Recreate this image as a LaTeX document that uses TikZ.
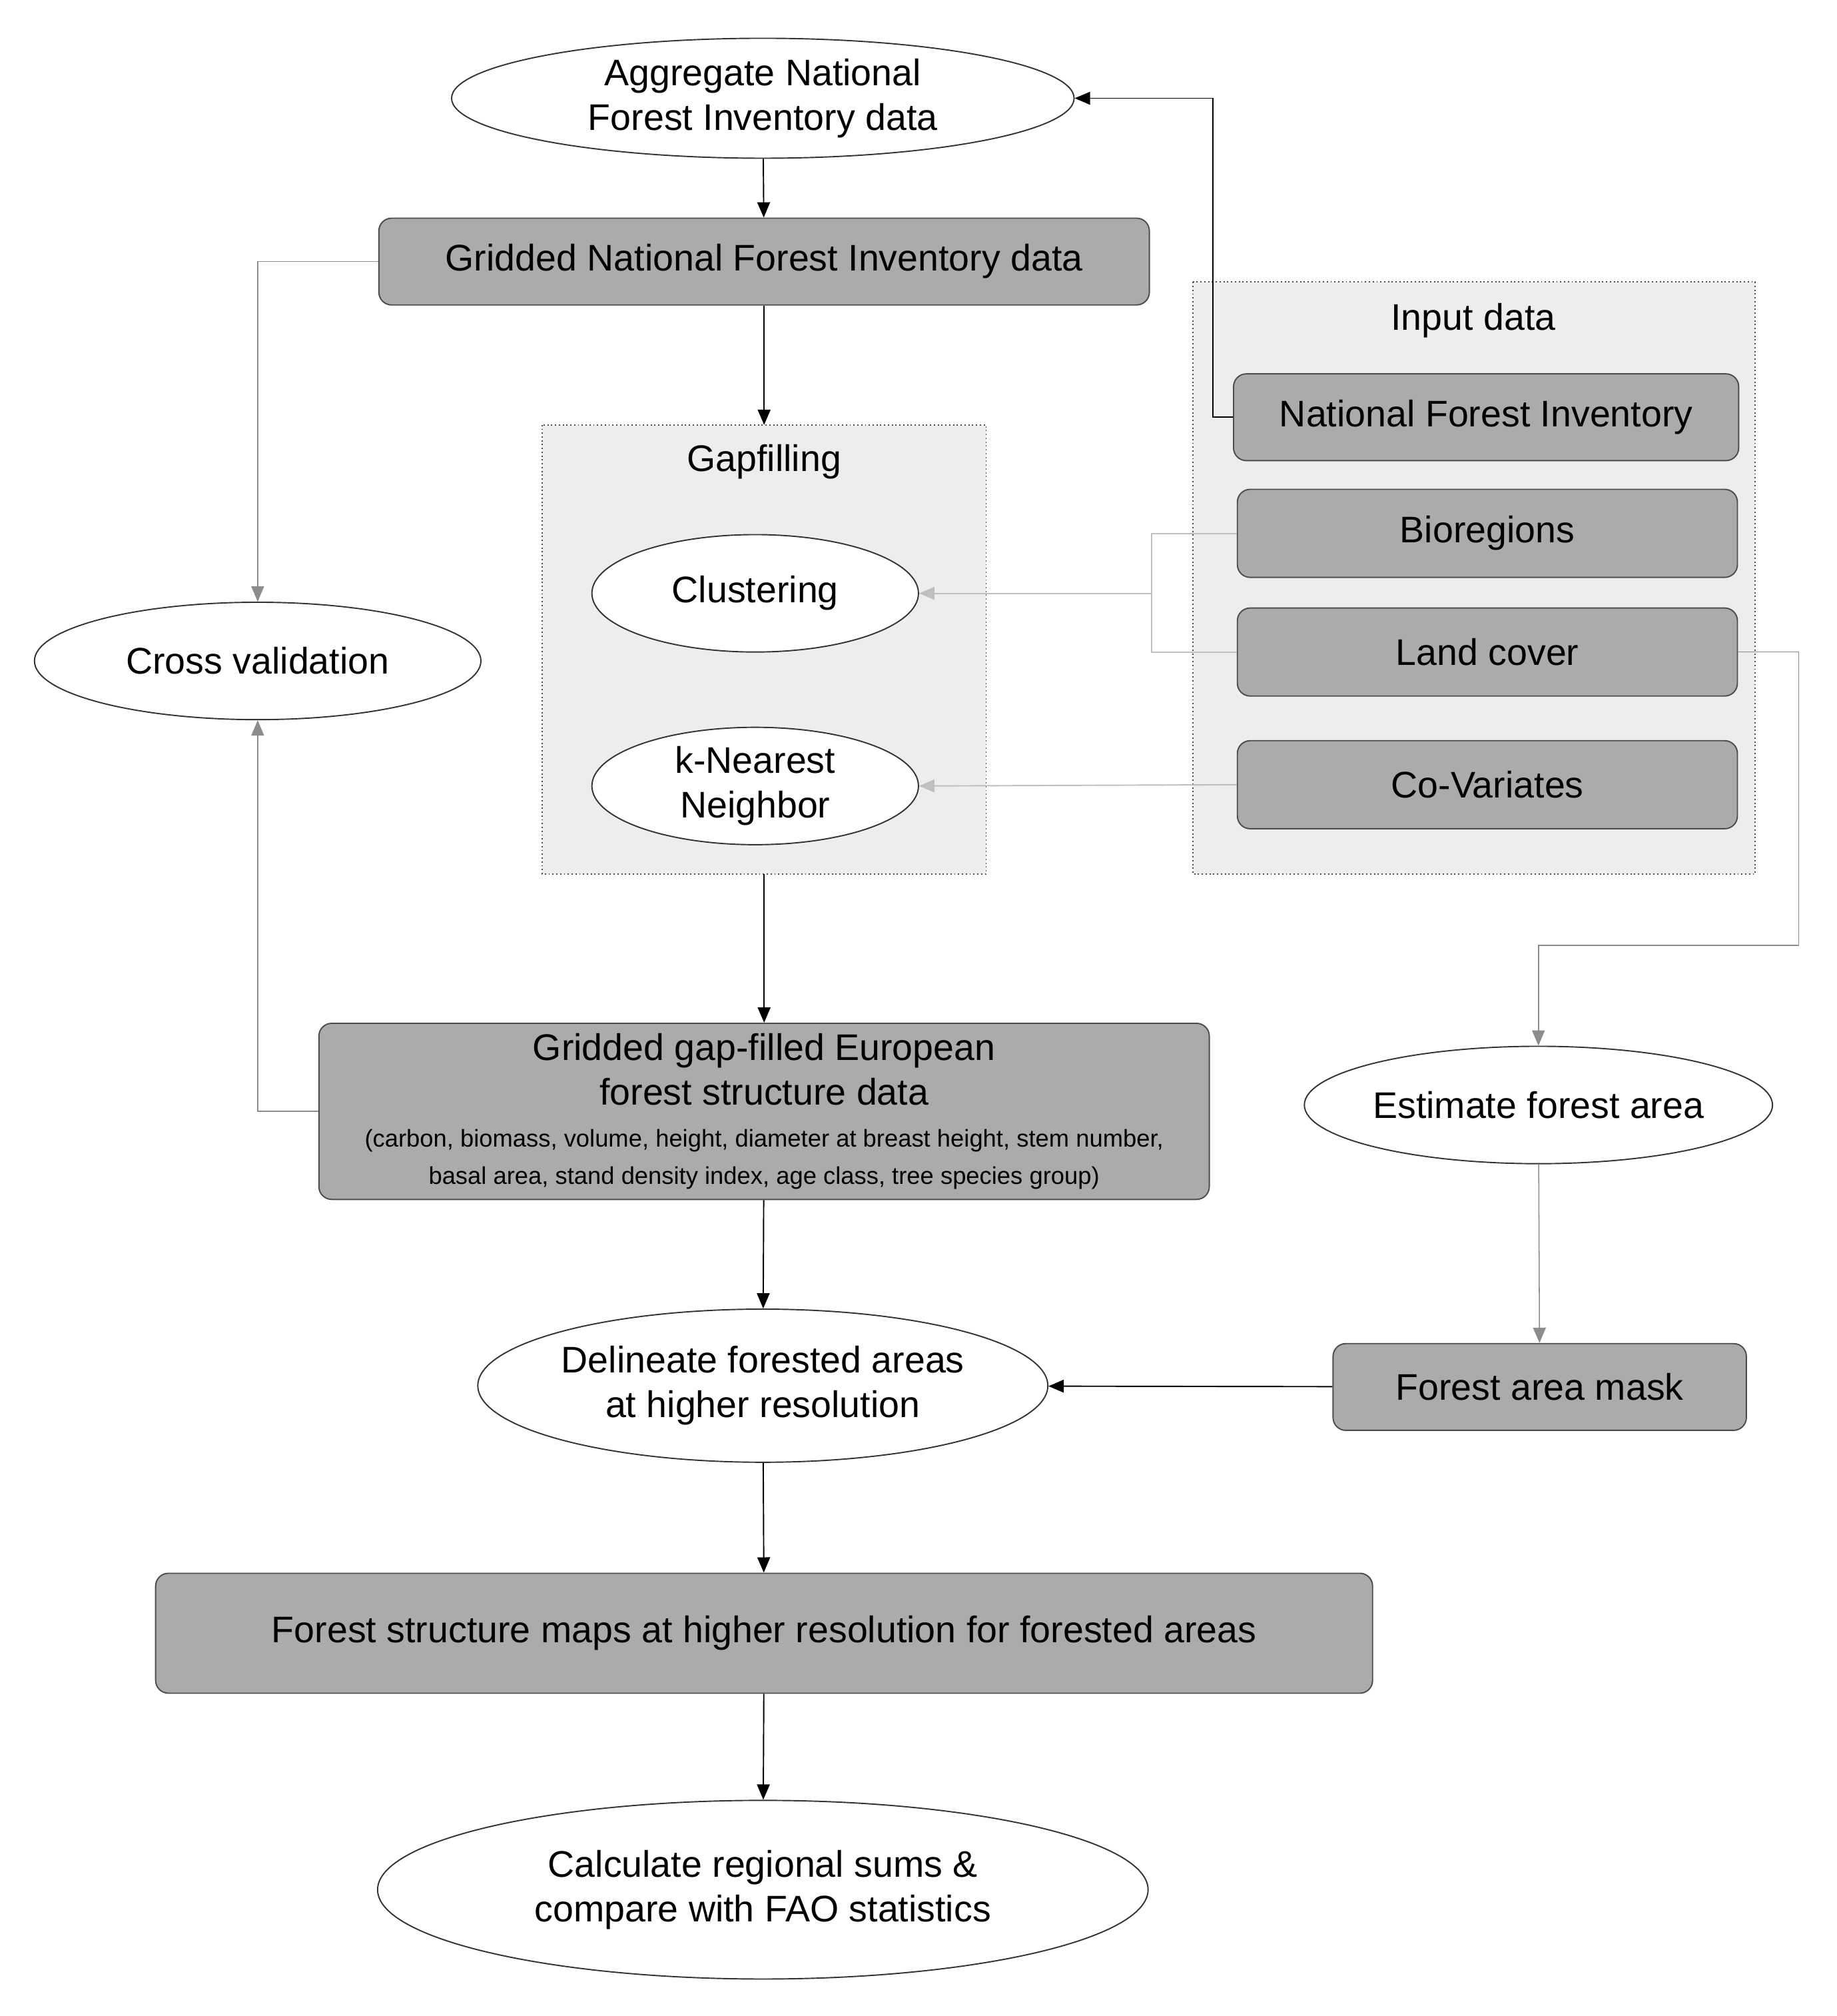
\documentclass[tikz,border=0pt]{standalone}
\usepackage{fontspec}
\setmainfont{Liberation Sans}
\usetikzlibrary{shapes.geometric,arrows.meta}
\begin{document}
\begin{tikzpicture}[x=0.5pt,y=-0.5pt,
  every node/.style={font=\fontsize{14.5}{17.5}\selectfont, align=center},
  box/.style={draw=black!70, fill=black!33, rounded corners=5pt, inner sep=0pt, line width=0.5pt},
  ell/.style={draw=black!80, fill=white, ellipse, inner sep=0pt, line width=0.5pt},
  region/.style={draw=black!70, densely dotted, fill=black!7, line width=0.5pt},
  arr/.style={-{Triangle[length=6pt,width=5pt]}, line width=0.5pt},
  thin/.style={draw=black!45, line width=0.4pt},
  lite/.style={draw=black!25, line width=0.5pt}]
\useasboundingbox (0,0) rectangle (1440,1580);
\fill[white] (0,0) rectangle (1440,1580);
% regions
\draw[region] (425,333) rectangle (773,685);
\node (gaplab) at (599,362) {Gapfilling};
\draw[region] (935,221) rectangle (1376,685);
\node (inlab) at (1155,251) {Input data};
\coordinate (gaptop) at (599,333);
\coordinate (gapbot) at (599,685);
% nodes
\node[ell, minimum width=244pt, minimum height=47pt] (agg) at (598,77) {Aggregate National\\Forest Inventory data};
\node[box, minimum width=302pt, minimum height=34pt] (gnfi) at (599,205) {Gridded National Forest Inventory data};
\node[ell, minimum width=128pt, minimum height=46pt] (clu) at (592,465) {Clustering};
\node[ell, minimum width=128pt, minimum height=46pt] (knn) at (592,616) {k-Nearest\\Neighbor};
\node[box, minimum width=198pt, minimum height=34pt] (nfi) at (1165,327) {National Forest Inventory};
\node[box, minimum width=196pt, minimum height=34.5pt] (bio) at (1166,418) {Bioregions};
\node[box, minimum width=196pt, minimum height=34.5pt] (lc) at (1166,511) {Land cover};
\node[box, minimum width=196pt, minimum height=34.5pt] (cov) at (1166,615) {Co-Variates};
\node[ell, minimum width=175pt, minimum height=46pt] (cv) at (202,518) {Cross validation};
\node[box, minimum width=349pt, minimum height=69pt] (gf) at (599,871) {Gridded gap-filled European\\forest structure data\\[-1pt]{\fontsize{9.5}{11}\selectfont (carbon, biomass, volume, height, diameter at breast height, stem number,}\\[-3pt]{\fontsize{9.5}{11}\selectfont basal area, stand density index, age class, tree species group)}};
\node[ell, minimum width=175pt, minimum height=46pt] (est) at (1206,866) {Estimate forest area};
\node[box, minimum width=162pt, minimum height=34pt] (mask) at (1207,1087) {Forest area mask};
\node[ell, minimum width=221pt, minimum height=60pt] (del) at (598,1086) {Delineate forested areas\\at higher resolution};
\node[box, minimum width=477pt, minimum height=47pt] (maps) at (599,1280) {Forest structure maps at higher resolution for forested areas};
\node[ell, minimum width=302pt, minimum height=70pt] (calc) at (598,1481) {Calculate regional sums \&\\compare with FAO statistics};
% connectors
\draw[arr] (agg) -- (gnfi);
\draw[arr] (nfi.west) -- (951,327) -- (951,77) -- (agg.east);
\draw[arr] (gnfi) -- (gaptop);
\draw[arr,thin] (gnfi.west) -- (202,205) -- (cv.north);
\draw[lite] (bio.west) -- (903,418) -- (903,511) -- (lc.west);
\draw[arr,lite] (903,465) -- (clu.east);
\draw[arr,lite] (cov.west) -- (knn.east);
\draw[arr,thin] (lc.east) -- (1410,511) -- (1410,741) -- (1206,741) -- (est.north);
\draw[arr] (gapbot) -- (gf.north);
\draw[arr,thin] (gf.west) -- (202,871) -- (cv.south);
\draw[arr] (gf) -- (del);
\draw[arr,thin] (est) -- (mask);
\draw[arr] (mask) -- (del);
\draw[arr] (del) -- (maps);
\draw[arr] (maps) -- (calc);
\end{tikzpicture}
\end{document}
